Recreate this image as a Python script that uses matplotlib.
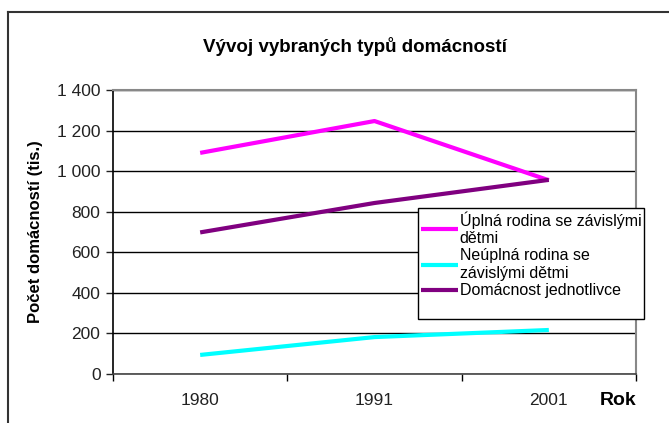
import matplotlib
matplotlib.use('Agg')
import matplotlib.pyplot as plt
from matplotlib.lines import Line2D
from matplotlib.ticker import FuncFormatter

plt.rcParams['font.family'] = ['Liberation Sans', 'DejaVu Sans']

YEARS = ['1980', '1991', '2001']
UPLNA = [1090, 1247, 955]
NEUPLNA = [94, 182, 217]
JEDNOTLIVCI = [698, 843, 957]

SERIES = [
    ('Úplná rodina se závislými\ndětmi', UPLNA, '#FF00FF'),
    ('Neúplná rodina se\nzávislými dětmi', NEUPLNA, '#00FFFF'),
    ('Domácnost jednotlivce', JEDNOTLIVCI, '#800080'),
]

fig = plt.figure(figsize=(6.69, 4.23), dpi=100)
ax = fig.add_axes([113 / 669, 49 / 423, 523 / 669, 284 / 423])

# outer chart frame (clipped at right/bottom)
fig.add_artist(Line2D([8 / 669, 1.0], [1 - 12 / 423, 1 - 12 / 423], transform=fig.transFigure,
                      color='#333333', lw=1.5))
fig.add_artist(Line2D([8 / 669, 8 / 669], [0, 1 - 12 / 423], transform=fig.transFigure,
                      color='#333333', lw=1.5))

x = range(len(YEARS))
for label, vals, col in SERIES:
    ax.plot(x, vals, color=col, lw=3, label=label, solid_capstyle='butt')

ax.set_xlim(-0.5, 2.5)
ax.set_ylim(0, 1400)
ax.set_yticks(range(0, 1401, 200))
ax.yaxis.set_major_formatter(FuncFormatter(lambda v, _: f'{v:,.0f}'.replace(',', ' ')))
ax.set_xticks(list(x))
ax.set_xticklabels(YEARS)
ax.set_xticks([-0.5, 0.5, 1.5, 2.5], minor=True)
ax.tick_params(axis='x', which='major', length=0, pad=14, labelsize=12.5, colors='#222222')
ax.tick_params(axis='x', which='minor', length=5, direction='out', width=1)
ax.tick_params(axis='y', length=5, width=1, labelsize=12.5, pad=4, colors='#222222')
ax.grid(axis='y', color='black', lw=1)
ax.set_axisbelow(True)

for s in ['top', 'right']:
    ax.spines[s].set_color('#888888')
    ax.spines[s].set_linewidth(1.5)
ax.spines['left'].set_linewidth(1.2)
ax.spines['bottom'].set_linewidth(1.2)
ax.spines['bottom'].set_color('#444444')

ax.set_ylabel('Počet domácností (tis.)', fontsize=12, fontweight='bold', labelpad=10)
fig.text(355 / 669, 1 - 46 / 423, 'Vývoj vybraných typů domácností', ha='center', va='center',
         fontsize=13.5, fontweight='bold')
fig.text(618 / 669, 1 - 400 / 423, 'Rok', ha='center', va='center', fontsize=14, fontweight='bold')

# Excel-style legend leaves an empty row at the bottom
handles, labels = ax.get_legend_handles_labels()
handles.append(Line2D([], [], color='none'))
labels.append(' ')
leg = ax.legend(handles, labels, loc='upper left', bbox_to_anchor=(418 / 669, 1 - 208 / 423),
                bbox_transform=fig.transFigure, fontsize=11.5, handlelength=2.3,
                handletextpad=0.1, borderpad=0.2, labelspacing=0.15, frameon=True,
                fancybox=False, borderaxespad=0)
leg.get_frame().set_edgecolor('black')
leg.get_frame().set_linewidth(1)
leg.get_frame().set_alpha(1)

fig.savefig('out.png', dpi=100)
